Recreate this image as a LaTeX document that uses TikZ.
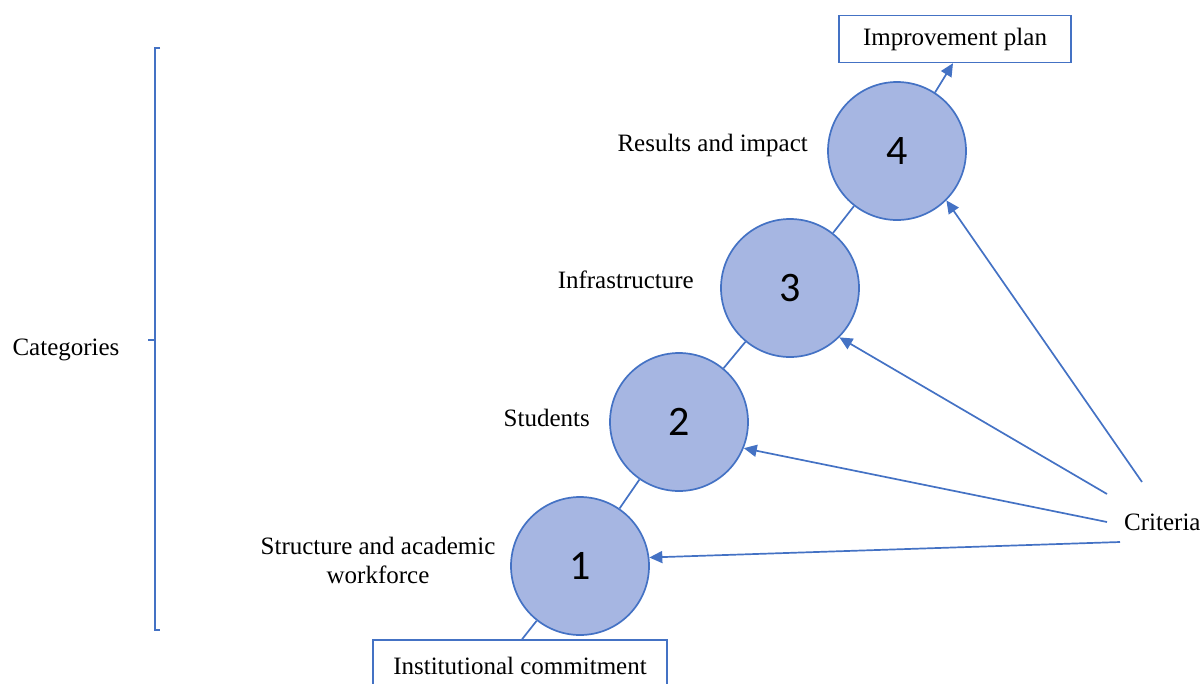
\documentclass[tikz,border=0pt]{standalone}
\usepackage{fontspec}
\setmainfont{Liberation Serif}
\newfontfamily\numfont{Carlito}
\usetikzlibrary{arrows.meta,calc}
\definecolor{edge}{RGB}{68,114,196}
\definecolor{disc}{RGB}{166,182,226}
\begin{document}
\begin{tikzpicture}[x=1pt,y=-1pt,
  stage/.style={circle,draw=edge,fill=disc,line width=1.7pt,minimum size=138pt,inner sep=0pt,font=\numfont\fontsize{42}{42}\selectfont},
  lbl/.style={font=\fontsize{25}{29}\selectfont,inner sep=0pt},
  boxed/.style={draw=edge,line width=1.4pt,fill=white,inner sep=0pt,font=\fontsize{25}{29}\selectfont},
  link/.style={draw=edge,line width=1.7pt},
  feed/.style={draw=edge,line width=1.7pt,-{Triangle[length=13pt,width=12pt]}}]
\useasboundingbox (0,0) rectangle (1204,683);
% stages
\node[stage] (s1) at (580,566) {1};
\node[stage] (s2) at (679,422) {2};
\node[stage] (s3) at (790,288) {3};
\node[stage] (s4) at (897,151) {4};
% boxes
\node[boxed,minimum width=294pt,minimum height=52pt] (ic) at (520,666) {\raisebox{-14pt}{Institutional commitment}};
\node[boxed,minimum width=232pt,minimum height=47pt] (ip) at (955,39) {Improvement plan};
% stage labels
\node[lbl,anchor=east] (l4) at (808,145) {Results and impact};
\node[lbl,anchor=east] (l3) at (694,280) {Infrastructure};
\node[lbl,anchor=east] (l2) at (590,418) {Students};
\node[lbl,align=center] (l1) at (378,560) {Structure and academic\\workforce};
\node[lbl,anchor=west] (cr) at (1124,522) {Criteria};
\node[lbl] (cat) at (66,350) {Categories};
% chain
\draw[link] ($(ic.north)+(2,0)$) -- (s1);
\draw[link] (s1) -- (s2);
\draw[link] (s2) -- (s3);
\draw[link] (s3) -- (s4);
\draw[feed] (s4.57) -- ($(ip.south)+(-2,0)$);
% criteria arrows
\coordinate (c1) at (1120,542);
\coordinate (c2) at (1107,522);
\coordinate (c3) at (1107,494);
\coordinate (c4) at (1142,482);
\draw[feed] (c1) -- (s1.7);
\draw[feed] (c2) -- (s2.-22);
\draw[feed] (c3) -- (s3.-45);
\draw[feed] (c4) -- (s4.-45);
% bracket
\coordinate (bt) at (155,48);
\coordinate (bb) at (155,630);
\draw[draw=edge,line width=1.1pt] ($(bt)+(5,0)$) -- (bt) -- (bb) -- ++(5,0);
\draw[draw=edge,line width=1.1pt] (155,340) -- ++(-7,0);
\end{tikzpicture}
\end{document}
